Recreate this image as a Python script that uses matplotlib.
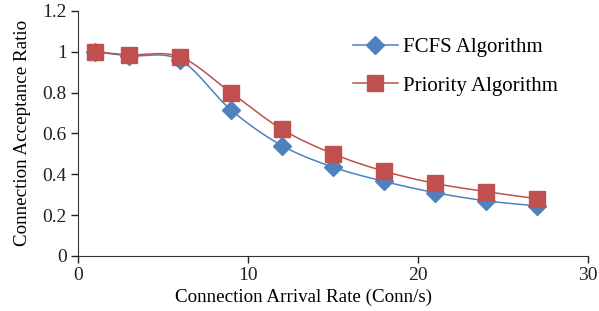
import matplotlib as mpl
import matplotlib.pyplot as plt
import numpy as np

rate = [1, 3, 6, 9, 12, 15, 18, 21, 24, 27]
fcfs = [1.0, 0.98, 0.96, 0.715, 0.54, 0.435, 0.365, 0.31, 0.27, 0.245]
priority = [1.0, 0.985, 0.975, 0.80, 0.62, 0.50, 0.415, 0.355, 0.315, 0.28]

BLUE = "#4F81BD"
RED = "#C0504D"


def smooth(x, y, n=30):
    # Excel-like smoothed line: cubic Bezier with Catmull-Rom control points
    p = np.column_stack([x, y]).astype(float)
    ext = np.vstack([p[0], p, p[-1]])
    out = []
    t = np.linspace(0, 1, n)[:, None]
    for i in range(len(p) - 1):
        p0, p1, p2, p3 = ext[i], ext[i + 1], ext[i + 2], ext[i + 3]
        c1 = p1 + (p2 - p0) / 6
        c2 = p2 - (p3 - p1) / 6
        seg = ((1 - t) ** 3) * p1 + 3 * ((1 - t) ** 2) * t * c1 + 3 * (1 - t) * t ** 2 * c2 + t ** 3 * p2
        out.append(seg if i == 0 else seg[1:])
    s = np.vstack(out)
    return s[:, 0], s[:, 1]


mpl.rcParams.update({
    "font.family": ["Liberation Serif", "DejaVu Serif"],
    "font.size": 14,
    "xtick.direction": "out",
    "ytick.direction": "out",
})

fig = plt.figure(figsize=(5.99, 3.11), dpi=100)
ax = fig.add_axes([0.130, 0.177, 0.852, 0.788])

for vals, color, marker, ms, label in [
    (fcfs, BLUE, "D", 9, "FCFS Algorithm"),
    (priority, RED, "s", 11, "Priority Algorithm"),
]:
    sx, sy = smooth(rate, vals)
    ax.plot(sx, sy, color=color, lw=1.1)
    ax.plot(rate, vals, ls="none", marker=marker, ms=ms, color=color)
    ax.plot([], [], color=color, lw=1.1, marker=marker, ms=ms, label=label)

ax.set_xlim(0, 30)
ax.set_ylim(0, 1.2)
ax.set_xticks([0, 10, 20, 30])
ax.set_yticks(np.arange(0, 1.21, 0.2))
ax.set_yticklabels(["0", "0.2", "0.4", "0.6", "0.8", "1", "1.2"])
ax.spines["top"].set_visible(False)
ax.spines["right"].set_visible(False)
ax.spines["left"].set_color("#333333")
ax.spines["bottom"].set_color("#333333")
ax.tick_params(length=5, width=1, colors="#222222", pad=3)
ax.set_xlabel("Connection Arrival Rate (Conn/s)", fontsize=13.7)
ax.xaxis.set_label_coords(0.443, -0.167)
ax.xaxis.label.set_va("center")
ax.set_ylabel("Connection Acceptance Ratio", fontsize=13.7)
ax.yaxis.set_label_coords(-0.108, 0.5)
ax.yaxis.label.set_va("center")

ax.legend(loc="upper left", bbox_to_anchor=(0.539, 0.89), frameon=False,
          borderpad=0, borderaxespad=0, labelspacing=0.9,
          handlelength=2.15, handletextpad=0.25, fontsize=15)

fig.savefig("out.png", dpi=100)
